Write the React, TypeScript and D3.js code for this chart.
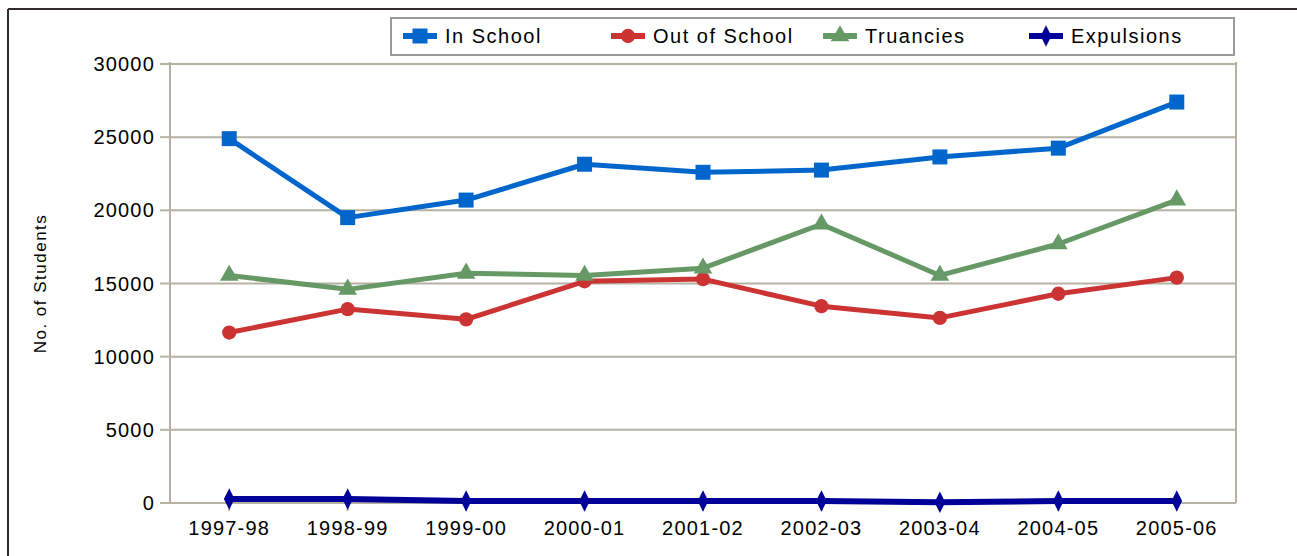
import React from 'react';
import * as d3 from 'd3';

const years = ['1997-98', '1998-99', '1999-00', '2000-01', '2001-02', '2002-03', '2003-04', '2004-05', '2005-06'];
const inSchool = [24900, 19500, 20700, 23150, 22600, 22750, 23650, 24250, 27400];
const outOfSchool = [11650, 13250, 12550, 15150, 15300, 13450, 12650, 14300, 15400];
const truancies = [15550, 14600, 15700, 15550, 16050, 19050, 15550, 17700, 20700];
const expulsions = [280, 280, 140, 140, 140, 140, 50, 140, 140];
const yTicks = [0, 5000, 10000, 15000, 20000, 25000, 30000];

const series = [
  { name: 'In School', values: inSchool, color: '#0066cc', shape: 'square' },
  { name: 'Out of School', values: outOfSchool, color: '#cc3333', shape: 'circle' },
  { name: 'Truancies', values: truancies, color: '#669966', shape: 'triangle' },
  { name: 'Expulsions', values: expulsions, color: '#000099', shape: 'diamond' },
];

const W = 1297, H = 556;
const left = 170, right = 1236, top = 64, bottom = 503;
const grid = '#b5b1a3';
const font = '"Liberation Sans", Arial, sans-serif';

const symbols: Record<string, d3.SymbolType> = {
  square: d3.symbolSquare,
  circle: d3.symbolCircle,
  triangle: d3.symbolTriangle,
  diamond: d3.symbolDiamond,
};
const sizes: Record<string, number> = { square: 225, circle: 160, triangle: 150, diamond: 110 };

function Marker({ shape, color, x, y }: { shape: string; color: string; x: number; y: number }) {
  const path = d3.symbol(symbols[shape], sizes[shape])();
  // diamond in the original is taller than wide
  const tf = shape === 'diamond' ? `translate(${x},${y}) scale(0.95,1.1)` : `translate(${x},${y})`;
  return <path d={path || ''} transform={tf} fill={color} />;
}

export default function App() {
  const x = d3.scaleBand().domain(years).range([left, right]);
  const y = d3.scaleLinear().domain([0, 30000]).range([bottom, top]);
  const cx = (d: string) => (x(d) || 0) + x.bandwidth() / 2;
  const line = d3.line<number>().x((_, i) => cx(years[i])).y((v) => y(v));

  const legendX = [420, 628, 840, 1046];

  return (
    <svg width={W} height={H} style={{ position: 'absolute', left: 0, top: 0, background: '#fff' }}
      fontFamily={font}>
      {/* outer frame */}
      <line x1={8} x2={W} y1={9} y2={9} stroke="#332b2b" strokeWidth={2} />
      <line x1={8} x2={8} y1={9} y2={H} stroke="#332b2b" strokeWidth={2} />

      {/* legend */}
      <rect x={391} y={18} width={843} height={37} fill="#fff" stroke="#9a9a9a" strokeWidth={2} />
      {series.map((s, i) => (
        <g key={s.name}>
          <line x1={legendX[i] - 17} x2={legendX[i] + 17} y1={36} y2={36} stroke={s.color} strokeWidth={6} />
          <Marker shape={s.shape} color={s.color} x={legendX[i]} y={36} />
          <text x={legendX[i] + 25} y={43} fontSize={20} letterSpacing={1.5} fill="#000">{s.name}</text>
        </g>
      ))}

      {/* gridlines */}
      {yTicks.filter((t) => t > 0).map((t) => (
        <line key={t} x1={left} x2={right} y1={y(t)} y2={y(t)} stroke={grid} strokeWidth={2} />
      ))}
      {/* axes */}
      <line x1={left} x2={left} y1={top - 2} y2={bottom} stroke={grid} strokeWidth={2} />
      <line x1={right} x2={right} y1={top - 2} y2={bottom} stroke={grid} strokeWidth={2} />
      <line x1={left} x2={right} y1={bottom} y2={bottom} stroke={grid} strokeWidth={2} />
      {yTicks.map((t) => (
        <g key={t}>
          <line x1={left - 10} x2={left} y1={y(t)} y2={y(t)} stroke={grid} strokeWidth={2} />
          <text x={155} y={y(t) + 7} textAnchor="end" fontSize={20} letterSpacing={1.2} fill="#000">{t}</text>
        </g>
      ))}
      {years.map((d) => (
        <g key={d}>
          <line x1={cx(d)} x2={cx(d)} y1={bottom} y2={bottom + 8} stroke={grid} strokeWidth={2} />
          <text x={cx(d)} y={535} textAnchor="middle" fontSize={20} letterSpacing={1.2} fill="#000">{d}</text>
        </g>
      ))}
      <text transform={`translate(46,${(top + bottom) / 2}) rotate(-90)`} textAnchor="middle" fontSize={17}
        letterSpacing={1.5} fill="#000">No. of Students</text>

      {/* series */}
      {series.map((s) => (
        <g key={s.name}>
          <path d={line(s.values) || ''} fill="none" stroke={s.color} strokeWidth={s.shape === 'diamond' ? 6 : 5}
            strokeLinejoin="round" />
          {s.values.map((v, i) => (
            <Marker key={i} shape={s.shape} color={s.color} x={cx(years[i])} y={y(v)} />
          ))}
        </g>
      ))}
    </svg>
  );
}
